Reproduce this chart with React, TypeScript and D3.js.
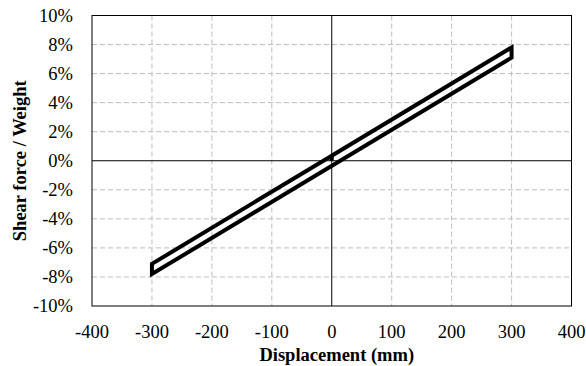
import { useRef, useEffect } from 'react';
import * as d3 from 'd3';

const WIDTH = 586;
const HEIGHT = 366;
const MARGIN = { top: 15.5, right: 14.5, bottom: 60, left: 92 };

const xTicks = [-400, -300, -200, -100, 0, 100, 200, 300, 400];
const yTicks = [-0.1, -0.08, -0.06, -0.04, -0.02, 0, 0.02, 0.04, 0.06, 0.08, 0.1];

// displacement (mm) and shear force / weight for the loop
const loopDisp = [0, 0, 300, 300, -300, -300, 0];
const loopForce = [0, 0.0035, 0.078, 0.071, -0.078, -0.071, 0.0035];

const FONT = 'Liberation Serif, DejaVu Serif, Times New Roman, serif';

export default function App() {
  const svgRef = useRef<SVGSVGElement>(null);

  useEffect(() => {
    const svg = d3.select(svgRef.current);
    svg.selectAll('*').remove();

    const innerW = WIDTH - MARGIN.left - MARGIN.right;
    const innerH = HEIGHT - MARGIN.top - MARGIN.bottom;

    const x = d3.scaleLinear().domain([-400, 400]).range([0, innerW]);
    const y = d3.scaleLinear().domain([-0.1, 0.1]).range([innerH, 0]);

    const g = svg.append('g').attr('transform', `translate(${MARGIN.left},${MARGIN.top})`);

    // grid
    g.selectAll('.vgrid')
      .data(xTicks.filter(d => d !== 0 && Math.abs(d) !== 400))
      .join('line')
      .attr('x1', d => x(d)).attr('x2', d => x(d))
      .attr('y1', 0).attr('y2', innerH)
      .attr('stroke', '#bdbdbd').attr('stroke-width', 1).attr('stroke-dasharray', '5,3');
    g.selectAll('.hgrid')
      .data(yTicks.filter(d => Math.abs(d) > 1e-9 && Math.abs(d) < 0.099))
      .join('line')
      .attr('x1', 0).attr('x2', innerW)
      .attr('y1', d => y(d)).attr('y2', d => y(d))
      .attr('stroke', '#bdbdbd').attr('stroke-width', 1).attr('stroke-dasharray', '5,3');

    // zero axes
    g.append('line')
      .attr('x1', x(0)).attr('x2', x(0)).attr('y1', 0).attr('y2', innerH)
      .attr('stroke', '#000').attr('stroke-width', 1);
    g.append('line')
      .attr('x1', 0).attr('x2', innerW).attr('y1', y(0)).attr('y2', y(0))
      .attr('stroke', '#000').attr('stroke-width', 1);

    // loop
    const pts = loopDisp.map((d, i) => [d, loopForce[i]] as [number, number]);
    const line = d3.line<[number, number]>().x(d => x(d[0])).y(d => y(d[1]));
    g.append('path')
      .attr('d', line(pts))
      .attr('fill', 'none')
      .attr('stroke', '#000')
      .attr('stroke-width', 4)
      .attr('stroke-linejoin', 'miter');

    // frame
    g.append('rect')
      .attr('width', innerW).attr('height', innerH)
      .attr('fill', 'none').attr('stroke', '#000').attr('stroke-width', 1);

    // tick labels
    g.selectAll('.xlab')
      .data(xTicks)
      .join('text')
      .attr('x', d => x(d)).attr('y', innerH + 31.5)
      .attr('text-anchor', 'middle')
      .style('font-family', FONT).style('font-size', '18.5px')
      .text(d => `${d}`);
    g.selectAll('.ylab')
      .data(yTicks)
      .join('text')
      .attr('x', -19).attr('y', d => y(d))
      .attr('dy', '0.34em')
      .attr('text-anchor', 'end')
      .style('font-family', FONT).style('font-size', '18.5px')
      .text(d => `${Math.round(d * 100)}%`);

    // axis titles
    svg.append('text')
      .attr('x', MARGIN.left + x(0) + 5).attr('y', 361)
      .attr('text-anchor', 'middle')
      .style('font-family', FONT).style('font-size', '18.5px').style('font-weight', 'bold')
      .text('Displacement (mm)');
    svg.append('text')
      .attr('transform', `translate(26,${MARGIN.top + innerH / 2}) rotate(-90)`)
      .attr('text-anchor', 'middle')
      .style('font-family', FONT).style('font-size', '18.5px').style('font-weight', 'bold')
      .text('Shear force / Weight');
  }, []);

  return (
    <div style={{ position: 'absolute', left: 0, top: 0 }}>
      <svg ref={svgRef} width={WIDTH} height={HEIGHT} style={{ display: 'block', background: '#fff' }} />
    </div>
  );
}
